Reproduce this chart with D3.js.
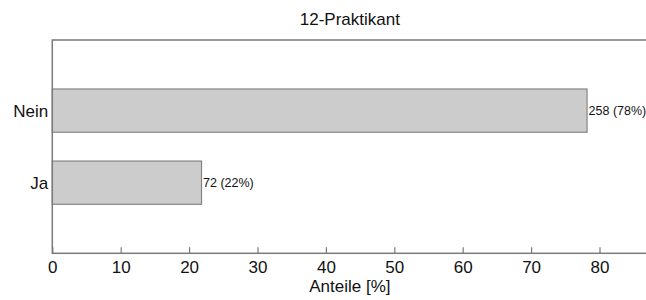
<!DOCTYPE html>
<head>
  <meta charset="utf-8" />
  <script src="https://cdn.jsdelivr.net/npm/d3@7"></script>
  <style>
    body { margin: 0; background: #fff; }
    text { font-family: "Liberation Sans", Arial, sans-serif; fill: #111; }
  </style>
</head>
<body>
  <svg class="chart" width="646" height="300"></svg>
  <script>
    // chart data
    const title = "12-Praktikant";
    const xTitle = "Anteile [%]";
    const categories = ["Nein", "Ja"];
    const counts = [258, 72];
    const xMax = 87;
    const xTicks = [0, 10, 20, 30, 40, 50, 60, 70, 80];

    const total = d3.sum(counts);
    const rows = categories.map((c, i) => ({ cat: c, n: counts[i], pct: (counts[i] / total) * 100 }));

    const margin = { top: 40, left: 52.3, bottom: 253.3 };
    const svg = d3.select(".chart");
    const lineColor = "#7a7a7a";

    const x = d3.scaleLinear().domain([0, xMax]).range([margin.left, margin.left + xMax * 6.84]);
    const y = d3
      .scaleBand()
      .domain(categories)
      .range([margin.top, margin.bottom])
      .paddingInner(0.4)
      .paddingOuter(0.68);

    // bars
    svg
      .append("g")
      .selectAll("rect")
      .data(rows)
      .enter()
      .append("rect")
      .attr("x", x(0))
      .attr("y", (d) => y(d.cat))
      .attr("width", (d) => x(d.pct) - x(0))
      .attr("height", y.bandwidth())
      .attr("fill", "#cccccc")
      .attr("stroke", "#858585")
      .attr("stroke-width", 1.2);

    // value labels
    svg
      .append("g")
      .selectAll("text")
      .data(rows)
      .enter()
      .append("text")
      .attr("x", (d) => x(d.pct) + 1.5)
      .attr("y", (d) => y(d.cat) + y.bandwidth() / 2)
      .attr("dy", "0.35em")
      .attr("font-size", "12.5px")
      .text((d) => `${d.n} (${Math.round(d.pct)}%)`);

    // box
    svg
      .append("rect")
      .attr("x", x(0))
      .attr("y", margin.top)
      .attr("width", x(xMax) - x(0))
      .attr("height", margin.bottom - margin.top)
      .attr("fill", "none")
      .attr("stroke", lineColor)
      .attr("stroke-width", 1.5);

    // x axis
    const xAxis = svg
      .append("g")
      .attr("transform", `translate(0,${margin.bottom})`)
      .call(d3.axisBottom(x).tickValues(xTicks).tickSizeInner(-6).tickSizeOuter(0).tickPadding(8));
    xAxis.select(".domain").remove();
    xAxis.selectAll(".tick line").attr("stroke", lineColor).attr("stroke-width", 1.2);
    xAxis.selectAll(".tick text").attr("font-size", "17px").attr("fill", "#111").style("font-family", '"Liberation Sans", Arial, sans-serif');

    // y labels
    svg
      .append("g")
      .selectAll("text")
      .data(categories)
      .enter()
      .append("text")
      .attr("x", x(0) - 4)
      .attr("y", (d) => y(d) + y.bandwidth() / 2)
      .attr("dy", "0.35em")
      .attr("text-anchor", "end")
      .attr("font-size", "17px")
      .text((d) => d);

    // titles
    const midX = (x(0) + x(xMax)) / 2;
    svg
      .append("text")
      .attr("x", midX)
      .attr("y", 25)
      .attr("text-anchor", "middle")
      .attr("font-size", "17px")
      .text(title);
    svg
      .append("text")
      .attr("x", midX)
      .attr("y", 292)
      .attr("text-anchor", "middle")
      .attr("font-size", "17px")
      .text(xTitle);
  </script>
</body>
